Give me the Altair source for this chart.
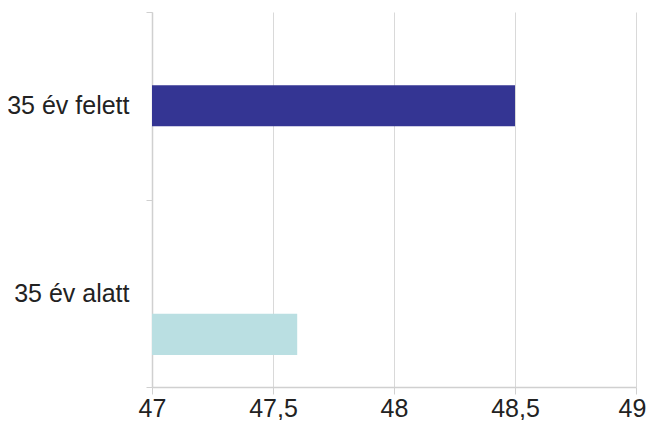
import altair as alt
import pandas as pd

categories = ["35 év felett", "35 év alatt"]
values = [48.5, 47.6]
slots = ["s2", "s3"]
slot_domain = ["s1", "s2", "s3"]
colors = ["#343593", "#badfe2"]
x_ticks = [47, 47.5, 48, 48.5, 49]
x_min, x_max = 47, 49

df = pd.DataFrame({"cat": categories, "val": values, "slot": slots})

FONT = "Liberation Sans"

chart = alt.Chart(df).mark_bar().encode(
    y=alt.Y("cat:N", sort=categories, title=None,
            scale=alt.Scale(paddingInner=0, paddingOuter=0),
            axis=alt.Axis(tickBand="extent", grid=False, domainColor="#d0d0d0",
                          tickColor="#d0d0d0", tickSize=6, labelPadding=17,
                          labelFont=FONT, labelFontSize=25, labelColor="#222222",
                          domainWidth=1.5, labelLimit=200)),
    yOffset=alt.YOffset("slot:N", scale=alt.Scale(domain=slot_domain, paddingInner=0, paddingOuter=0.78)),
    x=alt.X("val:Q", title=None,
            scale=alt.Scale(domain=[x_min, x_max], zero=False, nice=False),
            axis=alt.Axis(values=x_ticks, grid=True, gridColor="#d9d9d9",
                          domainColor="#d0d0d0", tickColor="#d0d0d0", tickSize=7,
                          labelPadding=2, labelFont=FONT, labelFontSize=25,
                          labelColor="#222222", domainWidth=1.5, labelFlush=False,
                          labelOffset={"condition": {"test": "datum.value == 49", "value": -4}, "value": 0},
                          labelExpr="replace(format(datum.value, '~r'), '.', ',')")),
    x2=alt.datum(x_min),
    color=alt.Color("slot:N", scale=alt.Scale(domain=slots, range=colors), legend=None),
).properties(
    width=484, height=375,
    autosize=alt.AutoSizeParams(type="none"),
    padding={"left": 144, "top": 4, "right": 11, "bottom": 33},
).configure_view(stroke=None)

chart.save("out.html", embed_options={"renderer": "svg", "actions": False})
